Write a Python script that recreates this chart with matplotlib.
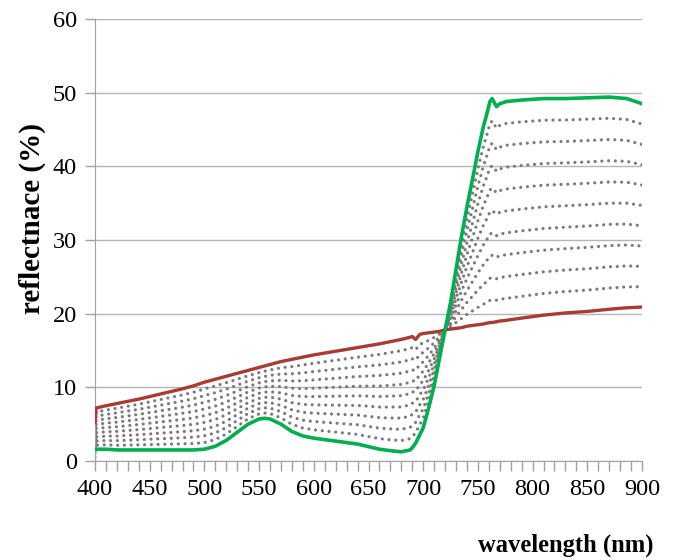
import numpy as np
import matplotlib.pyplot as plt

# Wavelengths (nm) and reflectance (%) of the two end members
wavelength = [400, 401, 410, 420, 440, 460, 480, 490, 500, 510, 520, 530, 540, 550, 555,
              560, 570, 580, 590, 600, 620, 640, 660, 670, 680, 688, 690, 693, 697,
              700, 705, 710, 715, 720, 725, 730, 735, 740, 745, 750, 755, 758, 761,
              763, 767, 770, 776, 790, 810, 830, 850, 870, 886, 900]
vegetation = [0.0, 1.6, 1.6, 1.5, 1.5, 1.5, 1.5, 1.5, 1.6, 2.0, 2.8, 3.9, 5.0, 5.7, 5.8,
              5.7, 5.0, 4.0, 3.4, 3.1, 2.7, 2.3, 1.6, 1.4, 1.25, 1.5, 1.8, 2.4, 3.6,
              4.5, 7.2, 10.2, 14.0, 17.8, 21.5, 26.0, 30.5, 34.5, 38.2, 42.0, 45.4,
              47.0, 48.8, 49.2, 48.1, 48.5, 48.8, 49.0, 49.2, 49.2, 49.3, 49.4, 49.2,
              48.5]
soil = [5.2, 7.2, 7.5, 7.8, 8.4, 9.1, 9.8, 10.2, 10.7, 11.1, 11.5, 11.9, 12.3, 12.7, 12.9,
        13.1, 13.5, 13.8, 14.1, 14.4, 14.9, 15.4, 15.9, 16.2, 16.5, 16.8, 16.9, 16.5,
        17.2, 17.3, 17.4, 17.5, 17.6, 17.8, 17.9, 18.0, 18.1, 18.3, 18.4, 18.5, 18.6,
        18.7, 18.8, 18.8, 18.9, 19.0, 19.1, 19.4, 19.8, 20.1, 20.3, 20.6, 20.8, 20.9]
veg_fractions = [0.1, 0.2, 0.3, 0.4, 0.5, 0.6, 0.7, 0.8, 0.9]

x_ticks = [400, 450, 500, 550, 600, 650, 700, 750, 800, 850, 900]
y_ticks = [0, 10, 20, 30, 40, 50, 60]

plt.rcParams['font.family'] = ['Liberation Serif', 'DejaVu Serif']

wl = np.array(wavelength)
veg = np.array(vegetation)
soi = np.array(soil)

fig = plt.figure(figsize=(6.77, 5.6), dpi=100)
ax = fig.add_axes([95 / 677, 1 - 461 / 560, 547 / 677, 442 / 560])

# mixed spectra as dotted lines
for f in veg_fractions:
    mix = f * veg + (1 - f) * soi
    ax.plot(wl, mix, color='#7a7a7a', lw=2.3, linestyle=(0, (0.01, 2.1)),
            dash_capstyle='round', zorder=2)

ax.plot(wl, soi, color='#a83b32', lw=2.4, zorder=3)
# first vegetation sample is a dark reading, only used in the mixtures
ax.plot(wl[1:], veg[1:], color='#00b050', lw=2.6, zorder=4)

ax.set_xlim(400, 900)
ax.set_ylim(0, 60)
ax.set_xticks(x_ticks)
ax.set_xticks(np.arange(400, 901, 10), minor=True)
ax.set_yticks(y_ticks)
ax.tick_params(axis='both', labelsize=17.5, colors='#a0a0a0', labelcolor='black',
               length=7, width=1, pad=6)
ax.tick_params(axis='x', which='minor', length=7, width=1, colors='#a0a0a0')
ax.grid(axis='y', color='#b5b5b5', lw=1)
ax.set_axisbelow(True)
for side in ['top', 'right']:
    ax.spines[side].set_visible(False)
for side in ['left', 'bottom']:
    ax.spines[side].set_color('#a0a0a0')

fig.text(32 / 677, 1 - 219 / 560, 'reflectnace (%)', rotation=90, ha='center',
         va='center', fontsize=21, fontweight='bold')
fig.text(653 / 677, 1 - 545 / 560, 'wavelength (nm)', ha='right', va='center',
         fontsize=17.7, fontweight='bold')

fig.savefig('out.png', dpi=100)
